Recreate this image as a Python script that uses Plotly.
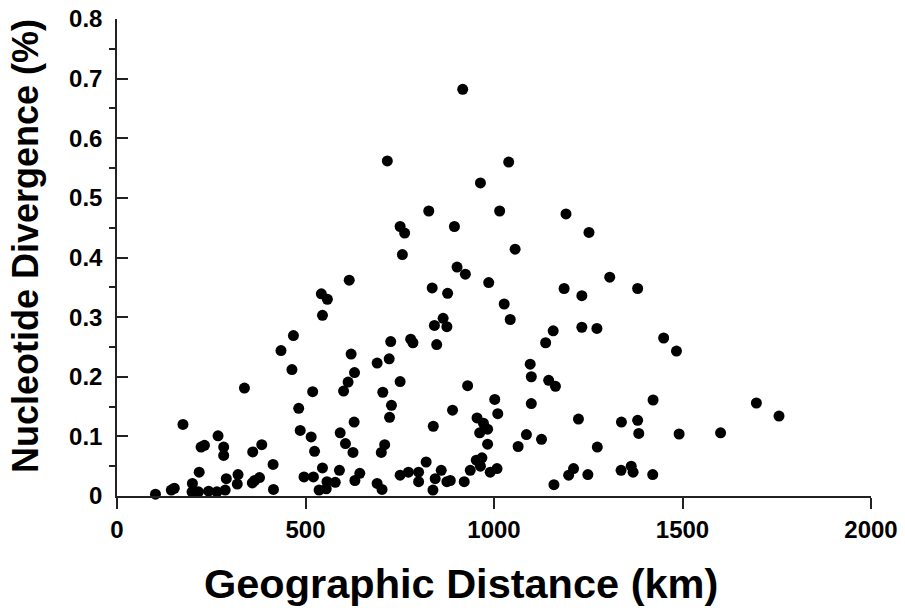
import plotly.graph_objects as go

# Geographic distance (km) and nucleotide divergence (%)
distance_km = [
    102, 144, 152, 175, 200, 199, 216, 218, 223, 232,
    243, 265, 268, 283, 283, 287, 290, 321, 319, 338,
    360, 384, 359, 365, 378, 414, 415, 435, 464, 468,
    482, 486, 496, 515, 519, 521, 524, 536, 545, 545,
    555, 557, 558, 542, 579, 590, 592, 601, 606, 613,
    616, 621, 626, 629, 630, 631, 644, 690, 690, 701,
    703, 705, 710, 717, 722, 723, 726, 728, 751, 751,
    751, 763, 757, 773, 779, 785, 800, 800, 820, 827,
    836, 838, 839, 842, 844, 848, 860, 865, 875, 875,
    877, 884, 890, 895, 902, 917, 921, 924, 930, 937,
    953, 955, 962, 964, 968, 964, 972, 983, 983, 986,
    990, 1002, 1008, 1010, 1015, 1027, 1039, 1043, 1056, 1064,
    1086, 1096, 1099, 1099, 1126, 1137, 1145, 1157, 1159, 1163,
    1186, 1191, 1198, 1211, 1224, 1233, 1233, 1249, 1252, 1273,
    1274, 1307, 1337, 1338, 1364, 1369, 1381, 1381, 1384, 1421,
    1422, 1450, 1484, 1491, 1601, 1696, 1756,
]
divergence_pct = [
    0.003, 0.010, 0.013, 0.120, 0.021, 0.007, 0.007, 0.040, 0.082, 0.085,
    0.008, 0.007, 0.101, 0.082, 0.068, 0.010, 0.029, 0.036, 0.020, 0.181,
    0.074, 0.086, 0.022, 0.026, 0.031, 0.053, 0.011, 0.244, 0.212, 0.269,
    0.147, 0.110, 0.032, 0.099, 0.175, 0.032, 0.075, 0.010, 0.303, 0.047,
    0.012, 0.024, 0.330, 0.339, 0.023, 0.043, 0.106, 0.176, 0.088, 0.191,
    0.362, 0.238, 0.073, 0.124, 0.207, 0.026, 0.038, 0.223, 0.021, 0.073,
    0.011, 0.174, 0.086, 0.562, 0.230, 0.132, 0.259, 0.152, 0.192, 0.035,
    0.452, 0.441, 0.405, 0.040, 0.263, 0.257, 0.040, 0.024, 0.057, 0.478,
    0.349, 0.010, 0.117, 0.286, 0.029, 0.254, 0.043, 0.298, 0.284, 0.024,
    0.340, 0.026, 0.144, 0.452, 0.384, 0.682, 0.024, 0.372, 0.185, 0.043,
    0.060, 0.131, 0.106, 0.525, 0.064, 0.050, 0.122, 0.112, 0.087, 0.358,
    0.040, 0.162, 0.046, 0.138, 0.478, 0.322, 0.560, 0.296, 0.414, 0.083,
    0.103, 0.221, 0.200, 0.155, 0.095, 0.257, 0.194, 0.277, 0.019, 0.184,
    0.348, 0.473, 0.035, 0.046, 0.129, 0.336, 0.283, 0.036, 0.442, 0.281,
    0.082, 0.367, 0.043, 0.124, 0.050, 0.040, 0.348, 0.127, 0.105, 0.036,
    0.161, 0.265, 0.243, 0.104, 0.106, 0.156, 0.134,
]

x_ticks = [0, 500, 1000, 1500, 2000]
y_ticks = [0, 0.1, 0.2, 0.3, 0.4, 0.5, 0.6, 0.7, 0.8]
y_tick_text = ["0", "0.1", "0.2", "0.3", "0.4", "0.5", "0.6", "0.7", "0.8"]
y_minor = [0.05, 0.15, 0.25, 0.35, 0.45, 0.55, 0.65, 0.75]

x_title = "Geographic Distance (km)"
y_title = "Nucleotide Divergence (%)"

FONT = "Arial, Liberation Sans, sans-serif"
AXIS = "#222"

fig = go.Figure(
    go.Scatter(
        x=distance_km,
        y=divergence_pct,
        mode="markers",
        marker=dict(size=11, color="black", line=dict(width=0)),
        cliponaxis=False,
        hoverinfo="x+y",
    )
)

fig.update_layout(
    width=905,
    height=613,
    margin=dict(l=117, r=34, t=19, b=117, autoexpand=False),
    plot_bgcolor="white",
    paper_bgcolor="white",
    showlegend=False,
    font=dict(family=FONT, color="black"),
    annotations=[
        dict(
            text=f"<b>{x_title}</b>",
            xref="paper", yref="paper",
            x=0.456, y=-0.183,
            xanchor="center", yanchor="middle",
            showarrow=False,
            font=dict(family=FONT, size=41.5, color="black"),
        ),
        dict(
            text=f"<b>{y_title}</b>",
            xref="paper", yref="paper",
            x=-0.122, y=0.524,
            xanchor="center", yanchor="middle",
            textangle=-90,
            showarrow=False,
            font=dict(family=FONT, size=36, color="black"),
        ),
    ],
)

fig.update_xaxes(
    range=[0, 2000],
    tickvals=x_ticks,
    ticktext=[str(v) for v in x_ticks],
    showgrid=False,
    zeroline=False,
    showline=True,
    linecolor=AXIS,
    linewidth=1.5,
    ticks="outside",
    ticklen=11,
    tickwidth=1.5,
    tickcolor=AXIS,
    automargin=False,
    ticklabeloverflow="allow",
    tickfont=dict(family=FONT, size=24, color="black", weight="bold"),
)

fig.update_yaxes(
    range=[0, 0.8],
    tickvals=y_ticks,
    ticktext=y_tick_text,
    showgrid=False,
    zeroline=False,
    showline=True,
    linecolor=AXIS,
    linewidth=1.5,
    ticks="inside",
    ticklen=11,
    tickwidth=1.5,
    tickcolor=AXIS,
    ticklabelstandoff=8,
    automargin=False,
    ticklabeloverflow="allow",
    minor=dict(
        tickvals=y_minor,
        ticks="outside",
        ticklen=6,
        tickwidth=1.5,
        tickcolor=AXIS,
        showgrid=False,
    ),
    tickfont=dict(family=FONT, size=24, color="black", weight="bold"),
)

# remove the browser's default 8px body margin so the figure fills the window
fig.write_html(
    "out.html",
    config={"displayModeBar": False},
    post_script="document.body.style.margin='0';document.body.style.overflow='hidden';",
)
